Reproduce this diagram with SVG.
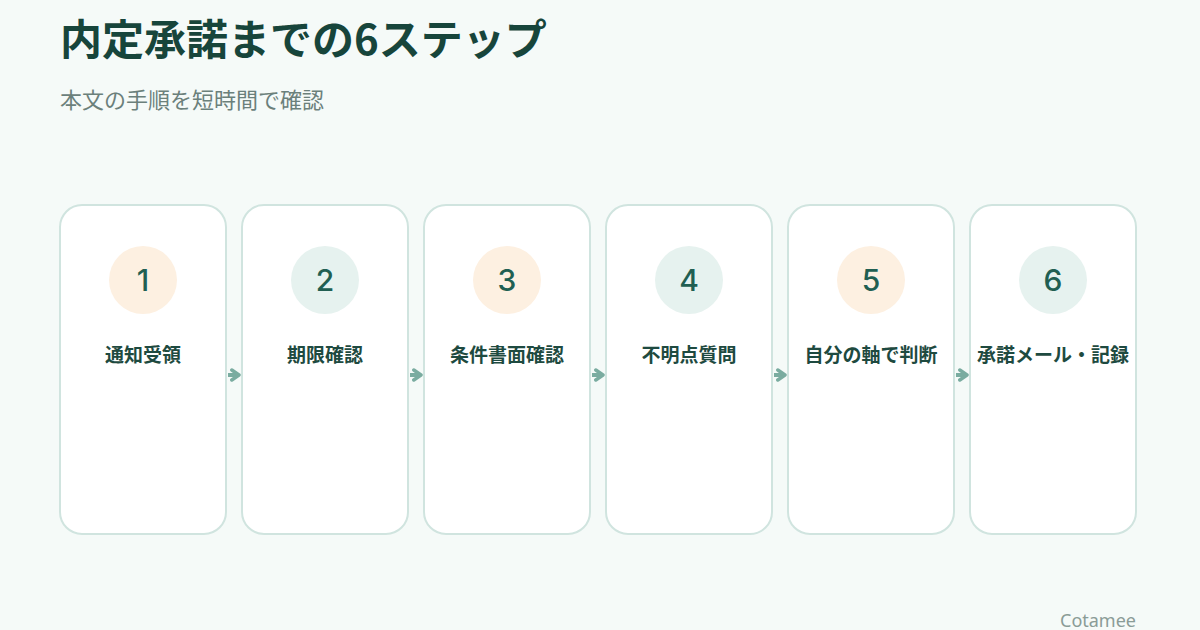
<svg xmlns="http://www.w3.org/2000/svg" width="1200" height="630" viewBox="0 0 1200 630">
<defs>
<style>
.t{font-family:"Noto Sans CJK JP","Noto Sans",sans-serif}
.title{font-size:42px;font-weight:700;fill:#17453b}
.sub{font-size:22px;fill:#6b807b}
.card{fill:#ffffff;stroke:#d0e4df;stroke-width:2}
.c1{fill:#fdf0e1}
.c2{fill:#e6f2ef}
.num{font-family:Inter,"Noto Sans",sans-serif;font-size:30px;font-weight:500;fill:#215f52;text-anchor:middle}
.lbl{font-size:19px;font-weight:700;fill:#1e4a40;text-anchor:middle}
.conn{stroke:#7aaca0;stroke-width:4;fill:none}
.brand{font-family:"Noto Sans",sans-serif;font-size:18px;fill:#8a9c97}
</style>
<marker id="ah" viewBox="0 0 10 10" refX="7" refY="5" markerWidth="3.6" markerHeight="3.6" orient="auto" markerUnits="strokeWidth">
<path d="M2,1.5 L7,5 L2,8.5" fill="none" stroke="#7aaca0" stroke-width="2.4" stroke-linecap="round" stroke-linejoin="round"/>
</marker>
</defs>
<rect width="1200" height="630" fill="#f5faf8"/>
<text class="t title" x="60" y="55">内定承諾までの6ステップ</text>
<text class="t sub" x="60" y="108">本文の手順を短時間で確認</text>
<g id="connectors">
<line class="conn" x1="228" y1="375" x2="239" y2="375" marker-end="url(#ah)"/>
<line class="conn" x1="410" y1="375" x2="421" y2="375" marker-end="url(#ah)"/>
<line class="conn" x1="592" y1="375" x2="603" y2="375" marker-end="url(#ah)"/>
<line class="conn" x1="774" y1="375" x2="785" y2="375" marker-end="url(#ah)"/>
<line class="conn" x1="956" y1="375" x2="967" y2="375" marker-end="url(#ah)"/>
</g>
<g id="step1"><rect class="card" x="60" y="205" width="166" height="329" rx="22"/><circle class="c1" cx="143" cy="280" r="34"/><text class="num" x="143" y="291">1</text><text class="t lbl" x="143" y="362">通知受領</text></g>
<g id="step2"><rect class="card" x="242" y="205" width="166" height="329" rx="22"/><circle class="c2" cx="325" cy="280" r="34"/><text class="num" x="325" y="291">2</text><text class="t lbl" x="325" y="362">期限確認</text></g>
<g id="step3"><rect class="card" x="424" y="205" width="166" height="329" rx="22"/><circle class="c1" cx="507" cy="280" r="34"/><text class="num" x="507" y="291">3</text><text class="t lbl" x="507" y="362">条件書面確認</text></g>
<g id="step4"><rect class="card" x="606" y="205" width="166" height="329" rx="22"/><circle class="c2" cx="689" cy="280" r="34"/><text class="num" x="689" y="291">4</text><text class="t lbl" x="689" y="362">不明点質問</text></g>
<g id="step5"><rect class="card" x="788" y="205" width="166" height="329" rx="22"/><circle class="c1" cx="871" cy="280" r="34"/><text class="num" x="871" y="291">5</text><text class="t lbl" x="871" y="362">自分の軸で判断</text></g>
<g id="step6"><rect class="card" x="970" y="205" width="166" height="329" rx="22"/><circle class="c2" cx="1053" cy="280" r="34"/><text class="num" x="1053" y="291">6</text><text class="t lbl" x="1053" y="362">承諾メール・記録</text></g>
<text class="brand" x="1060" y="627">Cotamee</text>
</svg>
